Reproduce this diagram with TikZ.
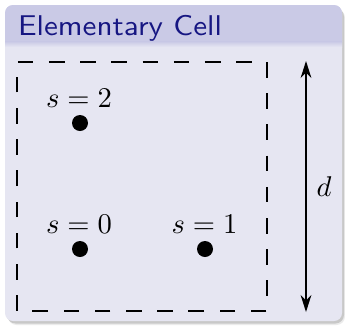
\documentclass[tikz,border=0pt]{standalone}
\usetikzlibrary{arrows.meta}
\definecolor{titlefg}{RGB}{22,22,130}
\definecolor{titlebg}{RGB}{202,202,230}
\definecolor{bodybg}{RGB}{230,230,242}
\begin{document}
\begin{tikzpicture}[x=0.35pt,y=-0.35pt,
  dotnode/.style={circle,fill=black,inner sep=0pt,minimum size=5.6pt},
  lab/.style={anchor=base,inner sep=0pt},
  cellframe/.style={line width=0.85pt,dash pattern=on 5.46pt off 5.46pt},
  dimarrow/.style={line width=0.45pt,{Stealth[length=6pt,width=3.8pt,inset=2pt]}-{Stealth[length=6pt,width=3.8pt,inset=2pt]}},
  blocktitle/.style={anchor=base west,inner sep=0pt,text=titlefg,font=\sffamily,xscale=1.09}]
\useasboundingbox (0,0) rectangle (345,325);
% shadow
\fill[black,opacity=0.08,rounded corners=3pt] (8,9) rectangle (345,325);
\fill[black,opacity=0.15,rounded corners=3pt] (7,8) rectangle (344,323.5);
% block
\fill[bodybg,rounded corners=2.8pt] (5,5) rectangle (342,321);
\fill[titlebg] (5,42) [rounded corners=2.8pt] -- (5,5) -- (342,5) [sharp corners] -- (342,42) -- cycle;
\shade[top color=titlebg,bottom color=bodybg] (5,41.5) rectangle (342,47);
\node[blocktitle] (title) at (17.5,35) {Elementary Cell};
% cell
\draw[cellframe] (267,62) -- (267,311) -- (17,311) -- (17,62) -- cycle;
\node[dotnode] (s2) at (80,123) {};
\node[dotnode] (s0) at (80,249) {};
\node[dotnode] (s1) at (205,249) {};
\node[lab] (l2) at (79,107) {$s=2$};
\node[lab] (l0) at (79,233) {$s=0$};
\node[lab] (l1) at (204.5,233) {$s=1$};
% dimension
\coordinate (dtop) at (306,61);
\coordinate (dbot) at (306,312);
\draw[dimarrow] (dtop) -- (dbot);
\node[lab] (d) at (324,196.5) {$d$};
\end{tikzpicture}
\end{document}
